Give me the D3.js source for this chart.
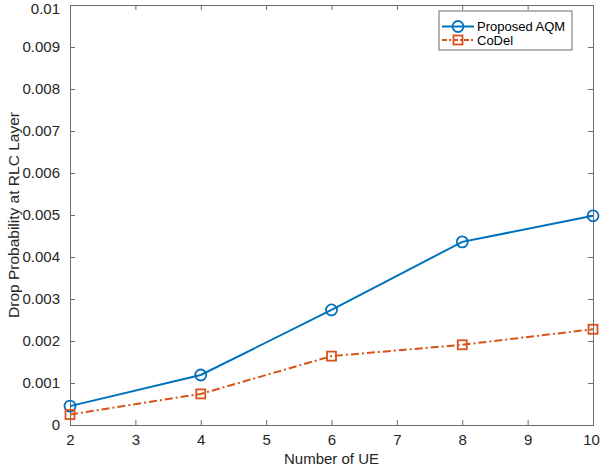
<!DOCTYPE html>
<html lang="en">
<head>
<meta charset="UTF-8" />
<title>Drop Probability at RLC Layer</title>
<script src="https://d3js.org/d3.v7.min.js"></script>
<style>
  body { margin: 0; background: #fff; font-family: "Liberation Sans", Arial, sans-serif; }
  svg { display: block; }
  .axis text { fill: #262626; font-size: 15px; font-family: "Liberation Sans", Arial, sans-serif; }
  .axis path, .axis line { stroke: #6b6b6b; }
</style>
</head>
<body>
<svg id="chart" width="600" height="471"></svg>
<script>
// Daten
const ueCounts = [2, 4, 6, 8, 10];
const proposedAQM = [0.00045, 0.00119, 0.00274, 0.00436, 0.00498];
const coDel = [0.00025, 0.00074, 0.00164, 0.00191, 0.00228];
const xTicks = [2, 3, 4, 5, 6, 7, 8, 9, 10];
const yTicks = [0, 0.001, 0.002, 0.003, 0.004, 0.005, 0.006, 0.007, 0.008, 0.009, 0.01];

const svg = d3.select("#chart"),
  margin = { top: 5, right: 7, bottom: 46, left: 70 },
  width = +svg.attr("width") - margin.left - margin.right,
  height = +svg.attr("height") - margin.top - margin.bottom;
const g = svg.append("g").attr("transform", `translate(${margin.left},${margin.top})`);

const x = d3.scaleLinear().domain([2, 10]).range([0, width]);
const y = d3.scaleLinear().domain([0, 0.01]).range([height, 0]);
const fmt = d => d === 0 ? "0" : String(+d.toFixed(3));

// Achsen (Ticks nach innen, wie MATLAB)
const xAxisG = g.append("g").attr("class", "axis").attr("transform", `translate(0,${height})`)
  .call(d3.axisBottom(x).tickValues(xTicks).tickSize(-5).tickPadding(9).tickFormat(d3.format("d")));
// "10" ganz rechts etwas nach links, sonst abgeschnitten
xAxisG.selectAll(".tick text").filter(d => d === 10).attr("dx", -2);
g.append("g").attr("class", "axis")
  .call(d3.axisTop(x).tickValues(xTicks).tickSize(-5).tickFormat(""));
const yAxisG = g.append("g").attr("class", "axis")
  .call(d3.axisLeft(y).tickValues(yTicks).tickSize(-5).tickPadding(10).tickFormat(fmt));
// oberstes Label etwas runter, damit es nicht abgeschnitten wird
yAxisG.selectAll(".tick text").filter(d => d === 0.01).attr("y", 4);
g.append("g").attr("class", "axis").attr("transform", `translate(${width},0)`)
  .call(d3.axisRight(y).tickValues(yTicks).tickSize(-5).tickFormat(""));

const series = [
  { name: "Proposed AQM", values: proposedAQM, color: "#0072BD", dash: null, marker: "circle" },
  { name: "CoDel", values: coDel, color: "#D95319", dash: "8,3,2,3", marker: "square" }
];

const line = d3.line().x((d, i) => x(ueCounts[i])).y(d => y(d));

function drawMarker(sel, marker, color) {
  if (marker === "circle") {
    sel.append("circle").attr("r", 5.5);
  } else {
    sel.append("rect").attr("x", -4.5).attr("y", -4.5).attr("width", 9).attr("height", 9);
  }
  sel.selectAll("circle,rect").attr("fill", "none").attr("stroke", color).attr("stroke-width", 1.8);
}

series.forEach(s => {
  g.append("path").datum(s.values)
    .attr("fill", "none")
    .attr("stroke", s.color)
    .attr("stroke-width", 2)
    .attr("stroke-dasharray", s.dash)
    .attr("d", line);
  s.values.forEach((v, i) => {
    const m = g.append("g").attr("transform", `translate(${x(ueCounts[i])},${y(v)})`);
    drawMarker(m, s.marker, s.color);
  });
});

// Legende
const lg = svg.append("g").attr("transform", "translate(439,11)");
lg.append("rect").attr("width", 133).attr("height", 39)
  .attr("fill", "#fff").attr("stroke", "#6b6b6b").attr("stroke-width", 1);
series.forEach((s, i) => {
  const row = lg.append("g").attr("transform", `translate(0,${15.5 + i * 13.5})`);
  row.append("line").attr("x1", 3).attr("x2", 35).attr("y1", 0).attr("y2", 0)
    .attr("stroke", s.color).attr("stroke-width", 2)
    .attr("stroke-dasharray", s.dash ? "5,2,2,2" : null);
  const m = row.append("g").attr("transform", "translate(19,0)");
  drawMarker(m, s.marker, s.color);
  row.append("text").attr("x", 38).attr("y", 4.5)
    .attr("font-size", 13).attr("fill", "#000").text(s.name);
});

// Achsentitel
svg.append("text")
  .attr("x", margin.left + width / 2).attr("y", 464)
  .attr("text-anchor", "middle").attr("font-size", 15).attr("fill", "#262626")
  .text("Number of UE");
svg.append("text")
  .attr("transform", `translate(19,${margin.top + height / 2}) rotate(-90)`)
  .attr("text-anchor", "middle").attr("font-size", 15.5).attr("fill", "#262626")
  .text("Drop Probability at RLC Layer");
</script>
</body>
</html>
